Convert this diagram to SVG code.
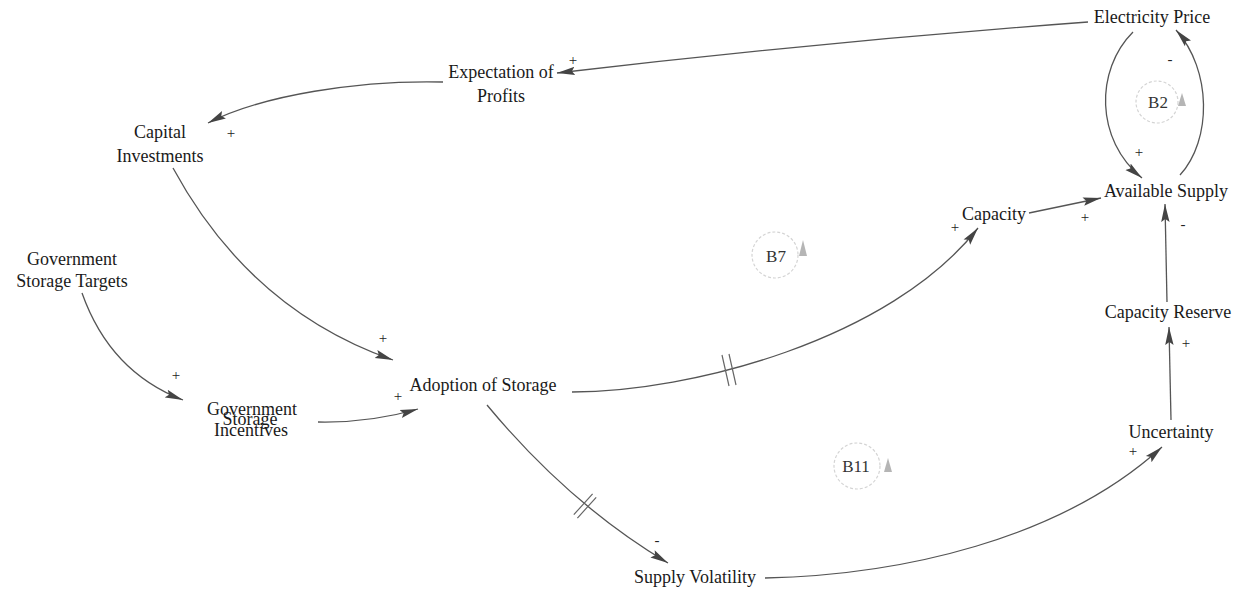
<svg xmlns="http://www.w3.org/2000/svg" width="1238" height="592" viewBox="0 0 1238 592">
  <style>
    .lbl { font-family: "Liberation Serif", "Times New Roman", serif; font-size: 18px; fill: #1a1a1a; text-anchor: middle; }
    .pol { font-family: "Liberation Serif", "Times New Roman", serif; font-size: 15px; fill: #222; text-anchor: middle; }
    .link { fill: none; stroke: #555; stroke-width: 1.3; marker-end: url(#head); }
    .delay { stroke: #666; stroke-width: 1.2; fill: none; }
    .loop { fill: none; stroke: #d4d4d4; stroke-width: 1.2; stroke-dasharray: 3 2; }
    .looptxt { font-family: "Liberation Serif", "Times New Roman", serif; font-size: 17px; fill: #333; text-anchor: middle; }
    .looparrow { fill: #b5b5b5; }
  </style>
  <defs>
    <marker id="head" viewBox="0 0 18 10" refX="18" refY="5" markerWidth="18" markerHeight="10" markerUnits="userSpaceOnUse" orient="auto">
      <path d="M0,0.8 L18,5 L0,9.2 L3,5 Z" fill="#444"/>
    </marker>
  </defs>
  <rect width="1238" height="592" fill="#fff"/>

  <!-- connectors -->
  <g id="connectors">
    <path class="link" d="M1088,22 Q820,42 557,73"/>
    <path class="link" d="M443,82 C360,80 262,95 208,123"/>
    <path class="link" d="M173,168 Q250,310 393,360"/>
    <path class="link" d="M82,293 Q110,372 183,400"/>
    <path class="link" d="M318,422 Q370,423 418,409"/>
    <path class="link" d="M572,392 C690,392 890,340 978,228"/>
    <path class="link" d="M1029,213 L1101,198"/>
    <path class="link" d="M1133,32 C1095,70 1095,140 1142,178"/>
    <path class="link" d="M1180,175 C1212,140 1212,70 1176,30"/>
    <path class="link" d="M1167,302 L1165,204"/>
    <path class="link" d="M1171,420 L1169,327"/>
    <path class="link" d="M487,405 Q569,504 668,563"/>
    <path class="link" d="M765,578 C900,575 1060,540 1162,447"/>
    <!-- delay marks -->
    <path class="delay" d="M722,355 L729,386 M729,354 L736,385"/>
    <path class="delay" d="M573.8,514.7 L592.6,493.9 M577.4,518.1 L596.2,497.3"/>
    <!-- polarities -->
    <text class="pol" x="573" y="65">+</text>
    <text class="pol" x="231" y="138">+</text>
    <text class="pol" x="383" y="343">+</text>
    <text class="pol" x="176" y="380">+</text>
    <text class="pol" x="398" y="401">+</text>
    <text class="pol" x="955" y="232">+</text>
    <text class="pol" x="1085" y="222">+</text>
    <text class="pol" x="1139" y="157">+</text>
    <text class="pol" x="1170" y="64">-</text>
    <text class="pol" x="1183" y="229">-</text>
    <text class="pol" x="1186" y="348">+</text>
    <text class="pol" x="1133" y="456">+</text>
    <text class="pol" x="657" y="545">-</text>
  </g>

  <!-- nodes -->
  <g id="electricity-price"><text class="lbl" x="1152" y="23">Electricity Price</text></g>
  <g id="expectation-of-profits">
    <text class="lbl" x="501" y="78">Expectation of</text>
    <text class="lbl" x="501" y="102">Profits</text>
  </g>
  <g id="capital-investments">
    <text class="lbl" x="160" y="138">Capital</text>
    <text class="lbl" x="160" y="162">Investments</text>
  </g>
  <g id="government-storage-targets">
    <text class="lbl" x="72" y="265">Government</text>
    <text class="lbl" x="72" y="287">Storage Targets</text>
  </g>
  <g id="government-storage-incentives">
    <text class="lbl" x="252" y="415">Government</text>
    <text class="lbl" x="250" y="425">Storage</text>
    <text class="lbl" x="251" y="436">Incentives</text>
  </g>
  <g id="adoption-of-storage"><text class="lbl" x="483" y="391">Adoption of Storage</text></g>
  <g id="capacity"><text class="lbl" x="994" y="220">Capacity</text></g>
  <g id="available-supply"><text class="lbl" x="1166" y="197">Available Supply</text></g>
  <g id="capacity-reserve"><text class="lbl" x="1168" y="318">Capacity Reserve</text></g>
  <g id="uncertainty"><text class="lbl" x="1171" y="438">Uncertainty</text></g>
  <g id="supply-volatility"><text class="lbl" x="695" y="583">Supply Volatility</text></g>

  <!-- loop markers -->
  <g id="loop-b2">
    <circle class="loop" cx="1157" cy="102" r="21"/>
    <text class="looptxt" x="1158" y="108">B2</text>
    <path class="looparrow" d="M1182,93 L1186,106 L1178,106 Z"/>
  </g>
  <g id="loop-b7">
    <circle class="loop" cx="775" cy="255" r="23"/>
    <text class="looptxt" x="776" y="262">B7</text>
    <path class="looparrow" d="M803,240 L807,256 L799,256 Z"/>
  </g>
  <g id="loop-b11">
    <circle class="loop" cx="857" cy="466" r="23"/>
    <text class="looptxt" x="856" y="472">B11</text>
    <path class="looparrow" d="M888,458 L892,472 L884,472 Z"/>
  </g>
</svg>
